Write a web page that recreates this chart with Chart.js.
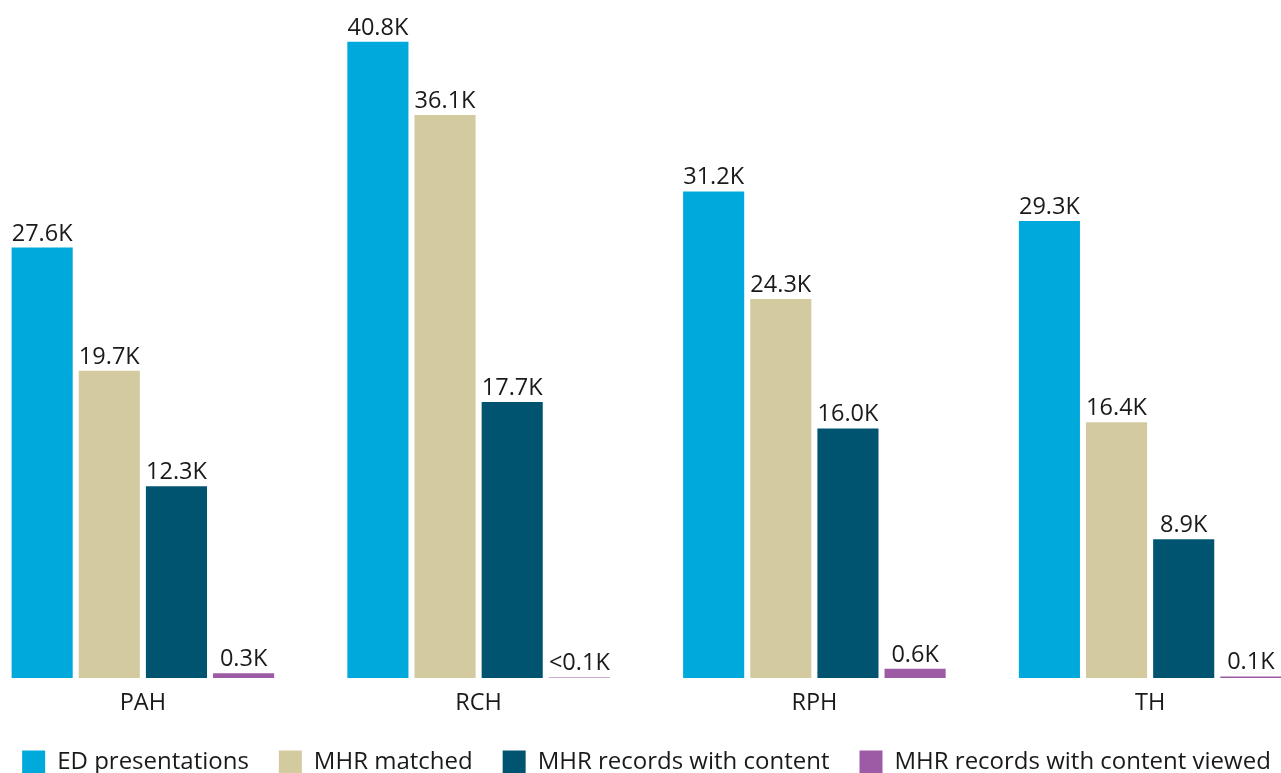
<!DOCTYPE html>
<html>
<head>
<meta charset="utf-8">
<script src="https://cdn.jsdelivr.net/npm/chart.js@4.4.1/dist/chart.umd.min.js"></script>
<style>
  html, body { margin: 0; padding: 0; background: #ffffff; overflow: hidden; }
  body { width: 1281px; height: 773px; position: relative; }
  #wrap { position: absolute; left: -25px; top: 0; width: 1343px; height: 784px; }
</style>
</head>
<body>
<div id="wrap"><canvas id="chart"></canvas></div>
<script>
// Hospitals
const categories = ['PAH', 'RCH', 'RPH', 'TH'];

// Counts per hospital
const edPresentations = [27600, 40800, 31200, 29300];
const mhrMatched = [19700, 36100, 24300, 16400];
const mhrWithContent = [12300, 17700, 16000, 8900];
const mhrContentViewed = [300, 40, 600, 100];

const seriesNames = ['ED presentations', 'MHR matched', 'MHR records with content', 'MHR records with content viewed'];
const seriesColors = ['#00a9dc', '#d3caa0', '#005470', '#9e5ba5'];

const FONT = '"Open Sans", "Noto Sans", sans-serif';
const FONT_SIZE = 23.5;

function formatK(v) {
  if (v < 100) return '<0.1K';
  return (v / 1000).toFixed(1) + 'K';
}

// Writes each bar's value just above it
const valueLabels = {
  id: 'valueLabels',
  afterDatasetsDraw(chart) {
    const ctx = chart.ctx;
    ctx.save();
    ctx.font = FONT_SIZE + 'px ' + FONT;
    ctx.fillStyle = '#1a1a1a';
    ctx.textAlign = 'center';
    ctx.textBaseline = 'alphabetic';
    chart.data.datasets.forEach((ds, i) => {
      const meta = chart.getDatasetMeta(i);
      meta.data.forEach((bar, j) => {
        ctx.fillText(formatK(ds.data[j]), bar.x, bar.y - 7);
      });
    });
    ctx.restore();
  }
};

const seriesData = [edPresentations, mhrMatched, mhrWithContent, mhrContentViewed];

new Chart(document.getElementById('chart'), {
  type: 'bar',
  data: {
    labels: categories,
    datasets: seriesData.map((d, i) => ({
      label: seriesNames[i],
      data: d,
      backgroundColor: seriesColors[i],
      borderWidth: 0,
      barPercentage: 0.91,
      categoryPercentage: 0.8
    }))
  },
  options: {
    responsive: true,
    maintainAspectRatio: false,
    animation: false,
    layout: { padding: { top: 23, left: 0, right: 0, bottom: 0 } },
    scales: {
      x: {
        grid: { display: false, drawTicks: false },
        border: { display: false },
        ticks: {
          color: '#1a1a1a',
          padding: 24.5,
          font: { family: FONT, size: FONT_SIZE, lineHeight: '2px' }
        },
        afterFit(scale) { scale.height = 42; }
      },
      y: {
        display: false,
        min: 0,
        max: 42000
      }
    },
    plugins: {
      legend: {
        position: 'bottom',
        labels: {
          boxWidth: 23,
          boxHeight: 23,
          padding: 30,
          color: '#1a1a1a',
          font: { family: FONT, size: 24 }
        }
      },
      tooltip: { enabled: false }
    }
  },
  plugins: [valueLabels]
});
</script>
</body>
</html>
